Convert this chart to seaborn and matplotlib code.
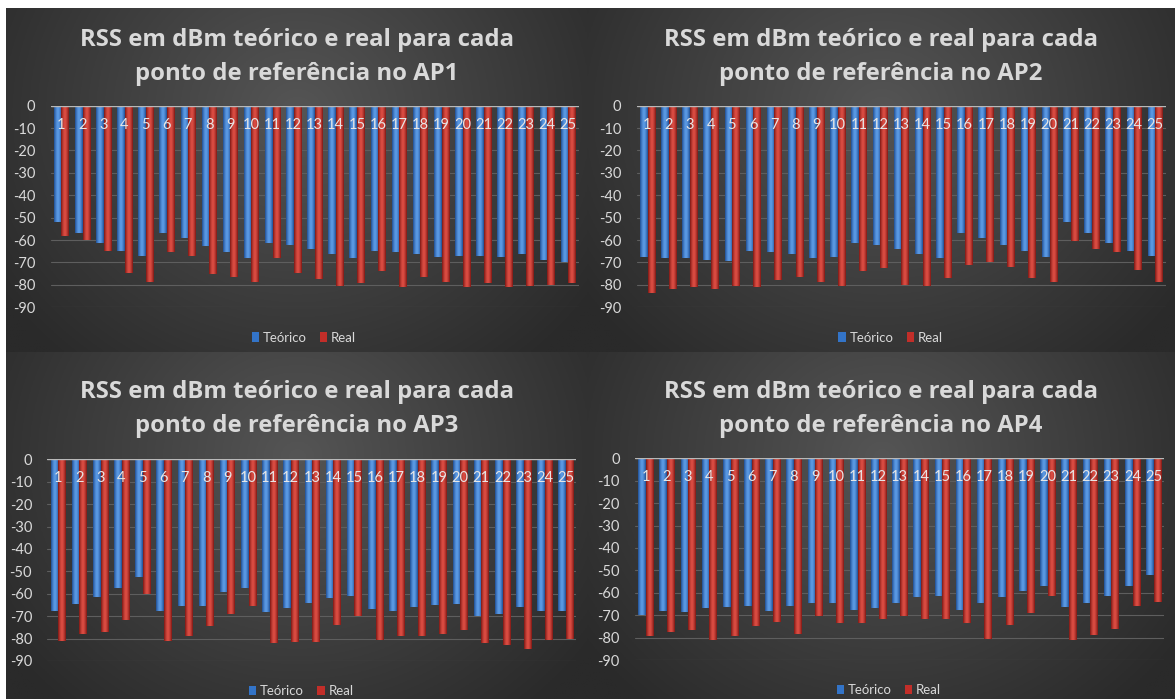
import numpy as np
import pandas as pd
import matplotlib
matplotlib.use("Agg")
import matplotlib.pyplot as plt
import seaborn as sns

# Reference points 1..25
pontos = [str(i) for i in range(1, 26)]
series_names = ["Teórico", "Real"]

ap1_teorico = [-52, -57, -61.5, -65, -67, -57, -59, -62.5, -65.5, -68, -61.5, -62, -64, -66, -68, -65, -65.5, -66, -67.5, -67, -67, -67.5, -66, -69, -70]
ap1_real = [-58, -60, -65, -74.5, -78.5, -65.5, -67, -75, -76.5, -78.5, -68, -74.5, -77.5, -80.5, -79, -74, -81, -76.5, -78.5, -81, -79, -81, -80.5, -80, -79]

ap2_teorico = [-67.5, -68, -68, -69, -69.5, -65, -65.5, -66, -68, -67.5, -61.5, -62, -64, -66, -68, -57, -59, -62, -65, -67.5, -52, -57, -61.5, -65, -67]
ap2_real = [-83.5, -82, -81, -82, -80.5, -81, -78, -76.5, -78.5, -80.5, -74, -72.5, -80, -80.5, -77, -71, -70, -72, -77, -78.5, -60.5, -64, -65.5, -73.5, -78.5]

ap3_teorico = [-67.5, -64.5, -61.5, -57.5, -52.5, -67.5, -65.5, -65.5, -59, -57.5, -68, -66.5, -64, -62, -61, -67, -67.5, -66, -65, -64.5, -70, -69, -66, -67.5, -67.5]
ap3_real = [-81, -78, -77, -71.5, -60, -81, -79, -74.5, -69, -65.5, -82, -81.5, -81.5, -74, -70, -80.5, -79, -79, -78, -76, -82, -83, -84.5, -80.5, -80]

ap4_teorico = [-70, -68, -68.5, -67, -66.5, -66, -68, -66, -64.5, -64.5, -67.5, -67, -64.5, -62, -61.5, -67.5, -64.5, -62, -59, -57, -66.5, -64.5, -61.5, -57, -52]
ap4_real = [-79.5, -77.5, -76.5, -81, -79.5, -75, -73, -78.5, -70.5, -73.5, -73.5, -71.5, -70.5, -71.5, -71.5, -73.5, -80.5, -74.5, -69, -61.5, -81, -79, -76, -66, -64]

titles = [
    "RSS em dBm teórico e real para cada\nponto de referência no AP1",
    "RSS em dBm teórico e real para cada\nponto de referência no AP2",
    "RSS em dBm teórico e real para cada\nponto de referência no AP3",
    "RSS em dBm teórico e real para cada\nponto de referência no AP4",
]
yticks = [0, -10, -20, -30, -40, -50, -60, -70, -80, -90]

panels = [
    (ap1_teorico, ap1_real),
    (ap2_teorico, ap2_real),
    (ap3_teorico, ap3_real),
    (ap4_teorico, ap4_real),
]

colors = {"Teórico": "#3374c8", "Real": "#c22e29"}
shade = {"Teórico": ("#5c9be6", "#1f4f94"), "Real": ("#dc4d43", "#7e1814")}
text_col = "#d9d9d9"

sns.set_theme(style="dark")
plt.rcParams["font.family"] = ["Lato", "DejaVu Sans"]

W, H = 1175, 699
fig = plt.figure(figsize=(W / 100, H / 100), dpi=100, facecolor="white")

# panel frames in pixels: (x0, y0, x1, y1)
frames = [(6, 8, 587, 352), (587, 8, 1175, 352), (6, 352, 587, 699), (587, 352, 1175, 699)]
# vertical centre of each two-line title, in pixels
title_y = [57, 57, 409, 409]
# plot areas in pixels: (left, top, width, height)
areas = [(50.6, 105.7, 528, 201.6), (636.7, 105.7, 529, 201.6),
         (47.4, 459.3, 529, 201.7), (635.1, 458.3, 529, 201.7)]


def radial_bg(ax):
    ny, nx = 200, 300
    yy, xx = np.mgrid[0:ny, 0:nx]
    cx, cy = nx * 0.5, ny * 0.30
    d = np.sqrt(((xx - cx) / (nx * 0.62)) ** 2 + ((yy - cy) / (ny * 0.95)) ** 2)
    d = np.clip(d, 0, 1)
    inner = np.array([0x55, 0x55, 0x55]) / 255
    outer = np.array([0x2a, 0x2a, 0x2a]) / 255
    img = inner[None, None, :] * (1 - d[..., None]) + outer[None, None, :] * d[..., None]
    ax.imshow(img, aspect="auto", extent=(0, 1, 0, 1), origin="upper")
    ax.set_axis_off()


def cylinder(ax, patch, kind):
    # horizontal light-to-dark shading clipped to the bar
    x, w = patch.get_x(), patch.get_width()
    y, h = patch.get_y(), patch.get_height()
    light = np.array(matplotlib.colors.to_rgb(shade[kind][0]))
    dark = np.array(matplotlib.colors.to_rgb(shade[kind][1]))
    t = np.linspace(-1, 1, 32)
    prof = 1 - np.abs(t) ** 1.6
    row = np.array([dark * (1 - p) + light * p for p in prof])
    im = ax.imshow(row[None, :, :], aspect="auto",
                   extent=(x, x + w, min(y, y + h), max(y, y + h)),
                   zorder=patch.get_zorder() + 0.1, interpolation="bilinear")
    im.set_clip_path(patch)


for k, ((teo, real), title) in enumerate(zip(panels, titles)):
    fx0, fy0, fx1, fy1 = frames[k]
    bg = fig.add_axes([fx0 / W, 1 - fy1 / H, (fx1 - fx0) / W, (fy1 - fy0) / H], zorder=0)
    radial_bg(bg)
    bg.text(0.5, 1 - (title_y[k] - fy0) / (fy1 - fy0), title, ha="center", va="center",
            color=text_col, fontsize=17.2, fontweight="bold", family=["Open Sans", "DejaVu Sans"],
            linespacing=1.5, transform=bg.transAxes)

    left, top, width, height = areas[k]
    ax = fig.add_axes([left / W, 1 - (top + height) / H, width / W, height / H], zorder=1)
    ax.set_facecolor("none")

    df = pd.DataFrame({
        "Ponto": pontos * 2,
        "RSS": list(teo) + list(real),
        "Tipo": [series_names[0]] * len(pontos) + [series_names[1]] * len(pontos),
    })
    sns.barplot(data=df, x="Ponto", y="RSS", hue="Tipo", order=pontos, hue_order=series_names,
                palette=colors, width=0.72, gap=0.06, saturation=1, ax=ax, legend=True,
                linewidth=0, zorder=3)

    blue_hex = matplotlib.colors.to_hex(colors["Teórico"])
    for patch in list(ax.patches):
        kind = "Teórico" if matplotlib.colors.to_hex(patch.get_facecolor()) == blue_hex else "Real"
        if patch.get_width() > 0 and abs(patch.get_height()) > 0:
            cylinder(ax, patch, kind)

    ax.set_xlim(-0.5, len(pontos) - 0.5)
    ax.set_ylim(-90, 0)
    ax.set_yticks(yticks)
    ax.set_yticklabels([str(v) for v in yticks])
    ax.tick_params(axis="y", colors=text_col, labelsize=10.5, length=0, pad=11)
    ax.tick_params(axis="x", length=0, labelbottom=False)
    ax.set_xlabel("")
    ax.set_ylabel("")
    ax.grid(False)
    for v in yticks[1:]:
        ax.axhline(v, color="#5e5e5e", lw=0.8, zorder=1)
    ax.axhline(0, color="#b8b8b8", lw=1.0, zorder=4)
    for s in ax.spines.values():
        s.set_visible(False)

    for i, p in enumerate(pontos):
        ax.text(i, -8.5, p, ha="center", va="center", color="#e6e6e6", fontsize=10.5, zorder=6)

    sns.move_legend(ax, "center", bbox_to_anchor=(0.48, -0.15), ncol=2, frameon=False, title=None,
                    fontsize=9.5, handlelength=0.55, handleheight=0.7, handletextpad=0.3,
                    columnspacing=1.0)
    for t in ax.get_legend().get_texts():
        t.set_color(text_col)

fig.savefig("out.png", dpi=100, facecolor="white")
